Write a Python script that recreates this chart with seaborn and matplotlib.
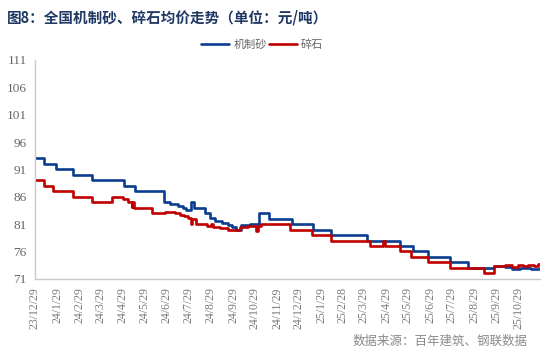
import pandas as pd
import matplotlib
matplotlib.use("Agg")
import matplotlib.pyplot as plt
import seaborn as sns

# 机制砂 change points (steps)
sand_dates = ["2023-12-29", "2024-01-10", "2024-01-27", "2024-02-20", "2024-03-17",
              "2024-04-30", "2024-05-16", "2024-06-25", "2024-07-03", "2024-07-14",
              "2024-07-21", "2024-07-26", "2024-08-01", "2024-08-06", "2024-08-21",
              "2024-08-28", "2024-09-04", "2024-09-13", "2024-09-22", "2024-09-27",
              "2024-10-03", "2024-10-10", "2024-10-22", "2024-11-04", "2024-11-17",
              "2024-12-20", "2025-01-17", "2025-02-12", "2025-04-03", "2025-05-18",
              "2025-06-05", "2025-06-26", "2025-07-27", "2025-08-20", "2025-09-25",
              "2025-10-11", "2025-10-21", "2025-11-01", "2025-11-15", "2025-11-28"]
sand_vals = [93, 92, 91, 90, 89,
             88, 87, 85, 84.6, 84.3,
             84, 83.5, 85, 84, 83,
             82.2, 81.6, 81.2, 80.8, 80.4,
             80.0, 80.9, 81.1, 83, 82,
             81, 80, 79, 78, 77,
             76, 75, 74, 73, 73.3,
             73.1, 72.8, 72.9, 72.8, 72.9]

# 碎石 change points (steps)
stone_dates = ["2023-12-29", "2024-01-10", "2024-01-23", "2024-02-20", "2024-03-17",
               "2024-04-14", "2024-04-29", "2024-05-06", "2024-05-11", "2024-05-12",
               "2024-05-14", "2024-06-08", "2024-06-26", "2024-07-10", "2024-07-17",
               "2024-07-23", "2024-07-28", "2024-08-02", "2024-08-03", "2024-08-08",
               "2024-08-24", "2024-08-29", "2024-09-01", "2024-09-10", "2024-09-22",
               "2024-10-08", "2024-10-19", "2024-10-31", "2024-11-02", "2024-11-07",
               "2024-12-17", "2025-01-16", "2025-02-12", "2025-04-06", "2025-04-24",
               "2025-04-27", "2025-05-18", "2025-06-03", "2025-06-26", "2025-07-27",
               "2025-09-12", "2025-09-26", "2025-10-11", "2025-10-20", "2025-10-28",
               "2025-11-05", "2025-11-12", "2025-11-20", "2025-11-26", "2025-11-28"]
stone_vals = [89, 88, 87, 86, 85,
              86, 85.5, 85, 84.2, 85,
              84, 83, 83.3, 83, 82.6,
              82.4, 82.2, 81.1, 82, 81.1,
              80.6, 81, 80.5, 80.3, 80.0,
              80.4, 80.6, 79.8, 80.6, 81,
              80, 79, 78, 77, 78,
              77, 76, 75, 74, 73,
              72, 73.3, 73.5, 73.2, 73.6,
              73.3, 73.6, 73.3, 73.7, 73.7]

tick_dates = ["2023-12-29", "2024-01-29", "2024-02-29", "2024-03-29", "2024-04-29",
              "2024-05-29", "2024-06-29", "2024-07-29", "2024-08-29", "2024-09-29",
              "2024-10-29", "2024-11-29", "2024-12-29", "2025-01-29", "2025-02-28",
              "2025-03-29", "2025-04-29", "2025-05-29", "2025-06-29", "2025-07-29",
              "2025-08-29", "2025-09-29", "2025-10-29"]
tick_labels = ["23/12/29", "24/1/29", "24/2/29", "24/3/29", "24/4/29", "24/5/29",
               "24/6/29", "24/7/29", "24/8/29", "24/9/29", "24/10/29", "24/11/29",
               "24/12/29", "25/1/29", "25/2/28", "25/3/29", "25/4/29", "25/5/29",
               "25/6/29", "25/7/29", "25/8/29", "25/9/29", "25/10/29"]
y_ticks = [71, 76, 81, 86, 91, 96, 101, 106, 111]

sns.set_style("white")
plt.rcParams["font.family"] = ["Noto Sans CJK SC", "DejaVu Sans"]

sand = pd.DataFrame({"date": pd.to_datetime(sand_dates), "price": sand_vals})
stone = pd.DataFrame({"date": pd.to_datetime(stone_dates), "price": stone_vals})

fig = plt.figure(figsize=(5.5, 3.57), dpi=100)
ax = fig.add_axes([0.0636, 0.219, 0.918, 0.613])

sns.lineplot(data=sand, x="date", y="price", ax=ax, color="#0b3c8f", lw=1.9,
             drawstyle="steps-post", label="机制砂")
sns.lineplot(data=stone, x="date", y="price", ax=ax, color="#c00000", lw=1.9,
             drawstyle="steps-post", label="碎石")

ax.set_xlim(pd.Timestamp("2023-12-29"), pd.Timestamp("2025-11-28"))
ax.set_ylim(71, 111)
ax.set_yticks(y_ticks)
ax.set_yticklabels([str(v) for v in y_ticks], family="Liberation Serif", fontsize=9.5, color="#666666")
ax.set_xticks(pd.to_datetime(tick_dates))
ax.set_xticklabels(tick_labels, rotation=90, family="Liberation Serif", fontsize=8.5, color="#7a7a7a")
ax.set_xlabel("")
ax.set_ylabel("")

for s in ["top", "right"]:
    ax.spines[s].set_visible(False)
for s in ["left", "bottom"]:
    ax.spines[s].set_color("#c8c8c8")
    ax.spines[s].set_linewidth(1.0)
ax.tick_params(axis="both", direction="out", length=4, width=1, color="#c8c8c8", pad=2)

leg = ax.legend(loc="lower center", bbox_to_anchor=(0.45, 1.0), ncol=2, frameon=False,
                handlelength=2.5, columnspacing=0.2, handletextpad=0.4, fontsize=8)
for t in leg.get_texts():
    t.set_color("#666666")

fig.text(0.013, 0.952, "图8：全国机制砂、碎石均价走势（单位：元/吨）", fontsize=10.5,
         fontweight="bold", color="#1f3864", va="center", ha="left")
fig.text(0.96, 0.045, "数据来源：百年建筑、钢联数据", fontsize=9, color="#8a8a8a",
         va="center", ha="right")

fig.savefig("out.png", dpi=100)
